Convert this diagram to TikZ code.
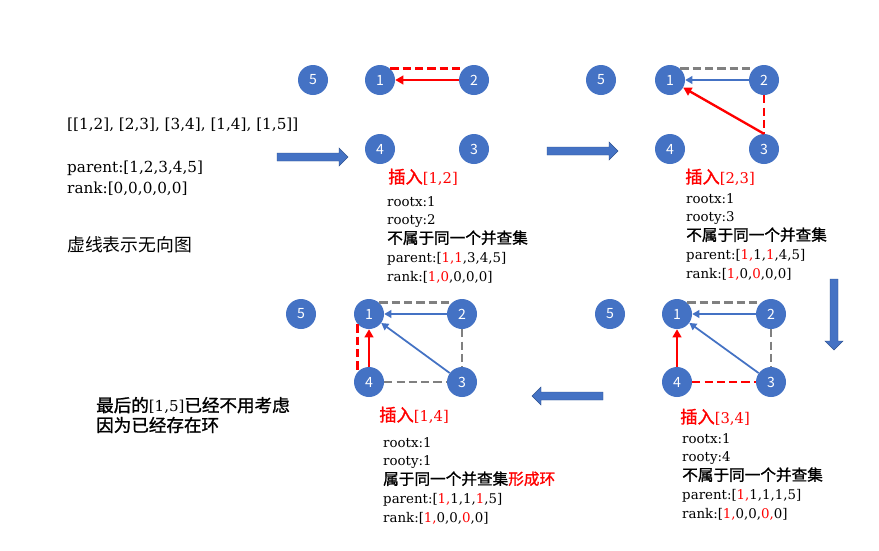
\documentclass[tikz,border=0pt]{standalone}
\usepackage{fontspec}
\usepackage{xcolor}
\usetikzlibrary{arrows.meta, calc}
\setmainfont{DejaVu Serif}
\newfontfamily\cjk[Scale=1.17, AutoFakeBold=1.2]{Noto Sans CJK SC}
\definecolor{ufblue}{HTML}{4472C4}
\definecolor{ufedge}{HTML}{2F528F}
\definecolor{ufgray}{HTML}{808080}
\newcommand{\rd}[1]{\textcolor{red}{#1}}

\begin{document}
\begin{tikzpicture}[
    x=0.03cm, y=-0.03cm,
    vertex/.style={circle, fill=ufblue, minimum size=0.9cm, inner sep=0pt, text=white, font=\cjk\fontsize{10.3}{12}\selectfont},
    redlink/.style={red, line width=2pt, -{Triangle[length=7pt, width=7.5pt]}},
    bluelink/.style={ufblue, line width=1.5pt, -{Triangle[length=6pt, width=6.5pt]}},
    reddash/.style={red, line width=2.4pt, dash pattern=on 7pt off 3.5pt},
    graydash/.style={ufgray, line width=2.4pt, dash pattern=on 7pt off 3.5pt},
    steptitle/.style={anchor=west, inner sep=0pt, text=red, font=\fontsize{12.6}{16}\selectfont},
    stepinfo/.style={anchor=north west, align=left, inner sep=0pt, font=\fontsize{11.4}{16}\selectfont},
    note/.style={anchor=west, align=left, inner sep=0pt, font=\fontsize{13}{18}\selectfont},
    flow/.pic={\filldraw[fill=ufblue, draw=ufedge, line width=0.4pt] (0,-4) -- (62,-4) -- (62,-9) -- (71,0) -- (62,9) -- (62,4) -- (0,4) -- cycle;}
]
\path[fill=white] (0,0) rectangle (879,550);
\useasboundingbox (0,0) rectangle (879,550);

% Input
\node[note] (edges) at (67,125) {[[1,2], [2,3], [3,4], [1,4], [1,5]]};
\node[note] (init) at (67,178) {parent:[1,2,3,4,5]\\rank:[0,0,0,0,0]};
\node[note] (legend) at (67,245) {\cjk 虚线表示无向图};
\node[note, font=\fontsize{12.8}{17}\selectfont] (last) at (96,415) {{\cjk\bfseries 最后的}[1,5]{\cjk\bfseries 已经不用考虑}\\{\cjk\bfseries 因为已经存在环}};

% Step 1: insert [1,2]
\node[vertex] (a5) at (313,80) {5};
\node[vertex] (a1) at (380,80) {1};
\node[vertex] (a2) at (474,80) {2};
\node[vertex] (a4) at (380,149) {4};
\node[vertex] (a3) at (474,149) {3};
\draw[reddash] (a1.47) -- (a2.133);
\draw[redlink] (a2.west) -- (a1.east);
\node[steptitle] (t1) at (388,177) {{\cjk\bfseries 插入}[1,2]};
\node[stepinfo] (i1) at (387,196) {rootx:1\\rooty:2\\{\cjk\bfseries 不属于同一个并查集}\\parent:[\rd{1,1},3,4,5]\\rank:[\rd{1,0},0,0,0]};

% Step 2: insert [2,3]
\node[vertex] (b5) at (601,80) {5};
\node[vertex] (b1) at (670,80) {1};
\node[vertex] (b2) at (764,80) {2};
\node[vertex] (b4) at (670,149) {4};
\node[vertex] (b3) at (764,149) {3};
\draw[graydash] (b1.47) -- (b2.133);
\draw[reddash] (b2.south) -- (b3.north);
\draw[bluelink] (b2.west) -- (b1.east);
\draw[redlink] (b3.north) -- (b1);
\node[steptitle] (t2) at (685,177) {{\cjk\bfseries 插入}[2,3]};
\node[stepinfo] (i2) at (686,193) {rootx:1\\rooty:3\\{\cjk\bfseries 不属于同一个并查集}\\parent:[\rd{1,}1,\rd{1},4,5]\\rank:[\rd{1,}0,\rd{0},0,0]};

% Step 3: insert [3,4]
\node[vertex] (d5) at (610,314) {5};
\node[vertex] (d1) at (677,314) {1};
\node[vertex] (d2) at (771,314) {2};
\node[vertex] (d4) at (677,382) {4};
\node[vertex] (d3) at (771,382) {3};
\draw[graydash] (d1.47) -- (d2.133);
\draw[graydash] (d2.south) -- (d3.north);
\draw[reddash] (d4.east) -- (d3.west);
\draw[bluelink] (d2.west) -- (d1.east);
\draw[bluelink] (d3) -- (d1);
\draw[redlink] (d4.north) -- (d1.south);
\node[steptitle] (t4) at (680,417) {{\cjk\bfseries 插入}[3,4]};
\node[stepinfo] (i4) at (682,433) {rootx:1\\rooty:4\\{\cjk\bfseries 不属于同一个并查集}\\parent:[\rd{1,}1,1,1,5]\\rank:[\rd{1,}0,0,\rd{0,}0]};

% Step 4: insert [1,4]
\node[vertex] (c5) at (301,314) {5};
\node[vertex] (c1) at (369,314) {1};
\node[vertex] (c2) at (462,314) {2};
\node[vertex] (c4) at (369,382) {4};
\node[vertex] (c3) at (462,382) {3};
\draw[graydash] (c1.47) -- (c2.133);
\draw[graydash] (c2.south) -- (c3.north);
\draw[graydash] (c4.east) -- (c3.west);
\draw[reddash] (c1.223) -- (c4.137);
\draw[bluelink] (c2.west) -- (c1.east);
\draw[bluelink] (c3) -- (c1);
\draw[redlink] (c4.north) -- (c1.south);
\node[steptitle] (t3) at (379,415) {{\cjk\bfseries 插入}[1,4]};
\node[stepinfo] (i3) at (383,437) {rootx:1\\rooty:1\\{\cjk\bfseries 属于同一个并查集\rd{形成环}}\\parent:[\rd{1,}1,1,\rd{1},5]\\rank:[\rd{1,}0,0,\rd{0},0]};

% Flow arrows
\pic at (277,157) {flow};
\pic at (547,151) {flow};
\pic[rotate=-90] at (834,279) {flow};
\pic[rotate=180] at (603,396) {flow};

\end{tikzpicture}
\end{document}
